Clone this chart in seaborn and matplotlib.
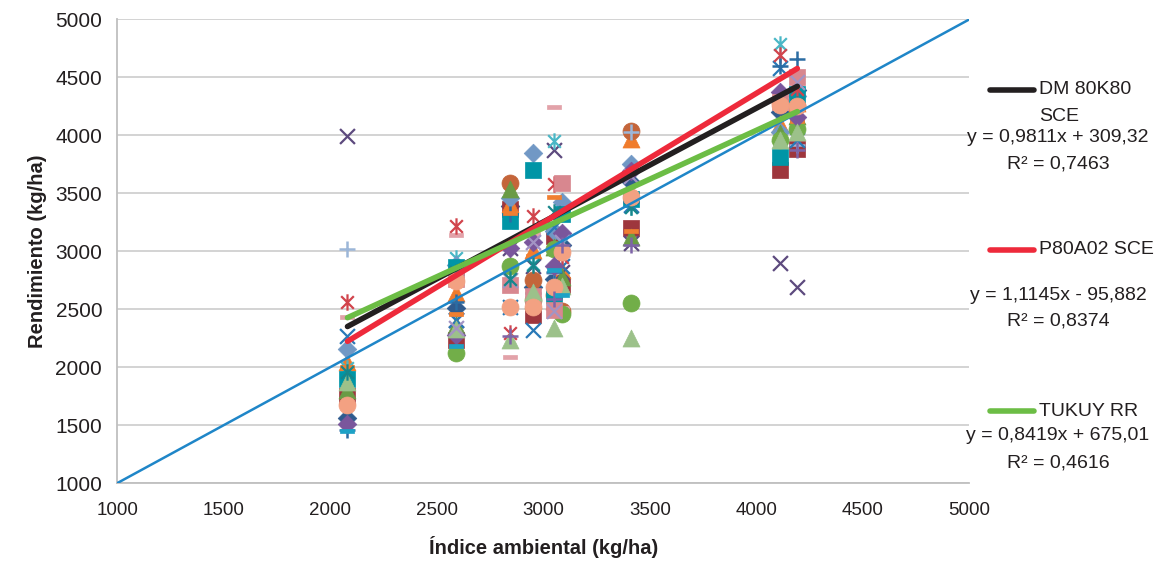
import numpy as np
import pandas as pd
import matplotlib
matplotlib.use("Agg")
import matplotlib.pyplot as plt
from matplotlib.path import Path
import seaborn as sns

# ambientes (indice ambiental, kg/ha)
env_index = [2080, 2589, 2845, 2950, 3051, 3089, 3413, 4112, 4192]

nan = np.nan
# rendimiento por genotipo en cada ambiente (kg/ha)
g01 = [1560, 2510, 3390, 2690, 2760, 3050, 3600, 4200, 4390]
g02 = [1750, 2230, 3360, 2450, 3130, 2710, 3200, 3700, 3880]
g03 = [2040, 2640, 3410, 3010, 2570, 2840, 3970, 4100, 4280]
g04 = [3990, 2410, 3030, 2870, 3870, 2820, 3070, 2900, 2690]
g05 = [1990, 2940, 2750, 2890, 3950, 3070, 3380, 4790, 4070]
g06 = [nan, nan, 3590, 2750, 2620, 2480, 4040, 4290, 4250]
g07 = [3020, 2780, 2520, 2530, 2810, 2960, 4030, 4270, 3920]
g08 = [2430, 3140, 2090, 3150, 4240, 2510, nan, nan, 4130]
g09 = [2160, 2880, 3460, 3850, 3170, 3420, 3750, 4030, 4340]
g10 = [1900, 2860, 3260, 3700, 2620, 3320, 3450, 3810, 4360]
g11 = [1800, 2360, 3540, 2580, 3040, 2780, 3120, 4020, 4170]
g12 = [2270, 2410, 2520, 2320, 3210, 2870, 3400, 4580, 3960]
g13 = [2560, 3220, 2290, 3300, 3580, 2950, nan, 4690, 4400]
g14 = [nan, 2120, 2870, 2580, 3020, 2460, 2550, 3960, 4050]
g15 = [1460, 2560, 3320, 2640, 2820, nan, 3420, 4600, 4660]
g16 = [2000, 2460, 3330, 2960, 3470, nan, 3170, 4240, 4120]
g17 = [1510, 2280, 3030, 3080, 2870, 3160, 3690, 4370, 4160]
g18 = [nan, 2760, 2710, 2610, 2490, 3590, nan, 4290, 4500]
g19 = [1870, 2330, 2230, 2650, 2340, 2700, 2250, 3960, 4030]
g20 = [nan, 2340, 2750, 3080, 2480, 3080, 3650, nan, 4460]
g21 = [1960, 2820, 2760, 2880, 3340, nan, 3380, nan, 4270]
g22 = [1670, 2740, 2520, 2520, 2690, 2990, 3470, 4260, 4250]
g23 = [nan, nan, 2270, nan, 2590, 3050, 3050, nan, 3870]
g24 = [1450, 2180, nan, nan, 2840, 2620, nan, nan, nan]
yields = [g01, g02, g03, g04, g05, g06, g07, g08, g09, g10, g11, g12,
          g13, g14, g15, g16, g17, g18, g19, g20, g21, g22, g23, g24]

colors = ["#2F5B8E", "#9E363D", "#F07C2C", "#5D4A7E", "#4AB7C6", "#C4653A",
          "#9CB6D8", "#E2A2A9", "#7198C5", "#0095A6", "#6A9B45", "#2979B7",
          "#D1444C", "#72AE49", "#2B6CA3", "#F07F31", "#7A569C", "#D8878F",
          "#9CC18A", "#A394C4", "#17868B", "#F3A182", "#7E64A8", "#1DA2C6"]

# lineas de tendencia
trend_names = ["DM 80K80", "P80A02 SCE", "TUKUY RR"]
trend_slope = [0.9811, 1.1145, 0.8419]
trend_icpt = [309.32, -95.882, 675.01]
trend_eq = ["y = 0,9811x + 309,32", "y = 1,1145x - 95,882", "y = 0,8419x + 675,01"]
trend_r2 = ["R² = 0,7463", "R² = 0,8374", "R² = 0,4616"]
trend_colors = ["#231F20", "#EE2A3B", "#6CBD45"]

# marcadores tipo Excel
asterisk = Path([(-1, -1), (1, 1), (-1, 1), (1, -1), (0, -1.3), (0, 1.3)],
                [Path.MOVETO, Path.LINETO, Path.MOVETO, Path.LINETO, Path.MOVETO, Path.LINETO])
dash = Path([(-1, -0.3), (1, -0.3), (1, 0.3), (-1, 0.3), (-1, -0.3)],
            [Path.MOVETO, Path.LINETO, Path.LINETO, Path.LINETO, Path.CLOSEPOLY])
marker_cycle = ["D", "s", "^", "x", asterisk, "o", "+", dash]
size_cycle = [90, 135, 150, 115, 140, 150, 140, 110]
lw_cycle = [0.5, 0.5, 0.5, 1.6, 1.6, 0.5, 1.8, 0.5]

sns.set_theme(style="white")
plt.rcParams["font.family"] = ["Liberation Sans", "DejaVu Sans"]

fig = plt.figure(figsize=(11.56, 5.65), dpi=100)
ax = fig.add_axes([0.1016, 0.1451, 0.7370, 0.8207])

for i, vals in enumerate(yields):
    df = pd.DataFrame({"env": env_index, "yield": vals}).dropna()
    k = i % 8
    c = colors[i]
    sns.scatterplot(data=df, x="env", y="yield", ax=ax, marker=marker_cycle[k],
                    s=size_cycle[k], color=c, edgecolor=c, linewidth=lw_cycle[k],
                    zorder=3, legend=False)

# linea 1:1
ref = pd.DataFrame({"x": [1000, 5000], "y": [1000, 5000]})
sns.lineplot(data=ref, x="x", y="y", ax=ax, color="#1F86C8", linewidth=1.8, zorder=5)

x_lo, x_hi = min(env_index), max(env_index)
for b, a, col in zip(trend_slope, trend_icpt, trend_colors):
    tl = pd.DataFrame({"x": [x_lo, x_hi], "y": [b * x_lo + a, b * x_hi + a]})
    sns.lineplot(data=tl, x="x", y="y", ax=ax, color=col, linewidth=4,
                 solid_capstyle="round", zorder=6)

ax.set_xlim(1000, 5000)
ax.set_ylim(1000, 5000)
ax.set_xticks(range(1000, 5001, 500))
ax.set_yticks(range(1000, 5001, 500))
ax.grid(axis="y", color="#D0D0D0", linewidth=1.3)
ax.set_axisbelow(True)
for s in ["top", "right"]:
    ax.spines[s].set_visible(False)
ax.spines["left"].set_color("#BFBFBF")
ax.spines["bottom"].set_color("#BFBFBF")
ax.spines["left"].set_linewidth(1.3)
ax.spines["bottom"].set_linewidth(1.3)
ax.tick_params(axis="x", direction="out", length=6, width=1.2, color="#BFBFBF",
               labelsize=13.5, labelcolor="#231F20", pad=8)
ax.tick_params(axis="y", direction="out", length=5, width=1.2, color="#BFBFBF",
               labelsize=15, labelcolor="#231F20", pad=6)
ax.set_xlabel("Índice ambiental (kg/ha)", fontsize=14.5, fontweight="bold",
              color="#231F20", labelpad=12)
ax.set_ylabel("Rendimiento (kg/ha)", fontsize=14.5, fontweight="bold",
              color="#231F20", labelpad=6)

# leyenda / ecuaciones a la derecha
leg_y = [90, 250, 411]
eq_y = [137, 295, 436]
r2_y = [164, 321, 463]
W, H = 1156, 565
for name, col, ly, ey, ry, eq, r2 in zip(trend_names, trend_colors, leg_y, eq_y, r2_y,
                                          trend_eq, trend_r2):
    fig.add_artist(plt.Line2D([990 / W, 1034 / W], [1 - ly / H, 1 - ly / H],
                              color=col, linewidth=4, solid_capstyle="round"))
    fig.text(1039 / W, 1 - ly / H, name, ha="left", va="center",
             fontsize=14, color="#231F20")
    fig.text(1058 / W, 1 - ey / H, eq, ha="center", va="center", fontsize=14, color="#231F20")
    fig.text(1058 / W, 1 - ry / H, r2, ha="center", va="center", fontsize=14, color="#231F20")
# segunda linea del nombre DM 80K80
fig.text(1039 / W, 1 - 116 / H, "SCE", ha="left", va="center", fontsize=14, color="#231F20")

fig.savefig("out.png", dpi=100)
